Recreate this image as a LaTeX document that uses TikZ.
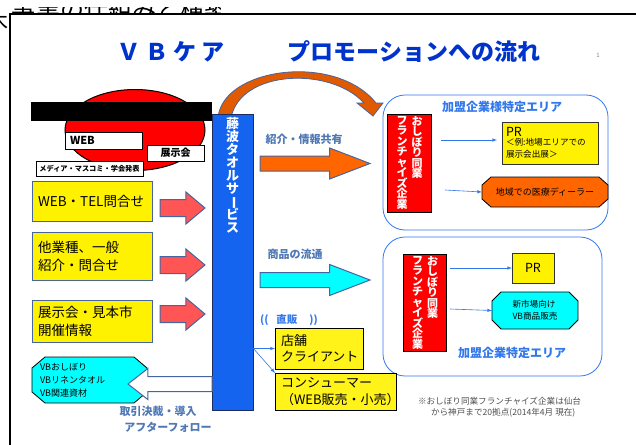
\documentclass[tikz,border=0pt]{standalone}
\usepackage{fontspec}
\setmainfont{Noto Sans CJK JP}
\usepackage{graphicx}
\usepackage{xcolor}
\usetikzlibrary{positioning,arrows,shapes,fit}

\definecolor{titleblue}{RGB}{0,51,204}
\definecolor{barblue}{RGB}{20,100,240}
\definecolor{navy}{RGB}{30,45,95}
\definecolor{steel}{RGB}{80,120,180}
\definecolor{edgeblue}{RGB}{70,100,160}
\definecolor{areablue}{RGB}{50,120,235}
\definecolor{arrred}{RGB}{255,85,85}
\definecolor{orng}{RGB}{255,102,0}
\definecolor{aqua}{RGB}{0,255,255}
\definecolor{curveorng}{RGB}{225,90,0}
\definecolor{notegray}{RGB}{80,80,80}

\newcommand{\fs}[2]{\fontsize{#1}{#2}\selectfont\lineskiplimit=-20pt}
\newcommand{\bou}{\rotatebox[origin=c]{-90}{ー}}
% octagon: style, centre x, centre y, width, height, cut x, cut y
\newcommand{\octa}[7]{\draw[octline,#1] (#2,#3) ++(-#4/2+#6,-#5/2) -- ++(#4-2*#6,0)
  -- ++(#6,#7) -- ++(0,#5-2*#7) -- ++(-#6,#7) -- ++(-#4+2*#6,0) -- ++(-#6,-#7)
  -- ++(0,-#5+2*#7) -- cycle;}

\begin{document}
\begin{tikzpicture}
[x=1pt, y=-1pt,
    every node/.style={inner sep=0pt, outer sep=0pt},
    title/.style={text=titleblue, font=\fs{23}{26}\bfseries},
    blackbox/.style={draw=black, fill=white, line width=1pt, font=\bfseries},
    inbox/.style={draw=edgeblue, fill=yellow, line width=1pt, minimum width=120,
      text width=108, inner xsep=6, align=left, font=\fs{13.5}{18}},
    outbox/.style={draw=black, fill=yellow!90!white, line width=1pt,
      inner xsep=6, align=left, anchor=west, font=\fs{13}{16.5}},
    blockarr/.style={single arrow, single arrow head indent=0pt, draw=edgeblue,
      line width=1pt, anchor=tail, inner xsep=0pt},
    redarr/.style={blockarr, fill=arrred, minimum height=45, inner ysep=8,
      single arrow head extend=7.5, minimum width=31, single arrow tip angle=80},
    bigarr/.style={blockarr, minimum height=110, inner ysep=7,
      single arrow head extend=8, minimum width=30, single arrow tip angle=42},
    area/.style={draw=areablue, line width=0.8pt, rounded corners=22},
    areatitle/.style={text=areablue, font=\fs{12}{14}\bfseries},
    fcbox/.style={draw=black, fill=red, line width=0.8pt},
    vtext/.style={text=white, anchor=north, align=center, text width=12,
      font=\fs{11}{10.5}\bfseries},
    prbox/.style={draw=black!80, fill=yellow, line width=0.8pt},
    octline/.style={draw=black, line width=0.8pt},
    thinarr/.style={-latex, draw=areablue, line width=0.6pt},
    flowlabel/.style={text=steel, font=\fs{11}{14}\bfseries}
    ]
    \useasboundingbox (0,0) rectangle (636,444);

    % header cut off at the top
    \begin{scope}
      \clip (12,8) rectangle (220,14);
      \node[anchor=south west, font=\fs{24}{24}] (head) at (12,20) {事業の仕組みと構築};
    \end{scope}
    \node[anchor=east, font=\fs{22}{22}] (headl) at (9,21) {木};
    \draw[line width=2pt] (10,460) |- (650,14);

    % titles
    \node[title] (t1) at (171,52) {Ｖ\hspace{5pt}Ｂ\hspace{5pt}ケ\hspace{5pt}ア};
    \node[title] (t2) at (414,52) {プロモーションへの流れ};
    \node[text=black!50, font=\fs{6}{6}] (pg) at (598,55) {1};

    % media ellipse
    \node[ellipse, draw=black, fill=red, line width=1pt, minimum width=140,
      minimum height=81] (media) at (135,130) {};
    \node[fill=black, minimum width=181, minimum height=19] (band) at (121.5,111.5) {};
    \node[blackbox, minimum width=77, minimum height=17, text width=67, inner xsep=5,
      align=left, font=\fs{11}{12}\bfseries] (web) at (103.5,140.5) {WEB};
    \node[blackbox, minimum width=57, minimum height=16, font=\fs{10}{11}\bfseries]
      (expo) at (175.5,153) {展示会};
    \node[blackbox, minimum width=107, minimum height=15, font=\fs{7.2}{8}\bfseries]
      (press) at (89.5,168.5) {メディア・マスコミ・学会発表};

    % inquiries
    \node[inbox, minimum height=40] (in1) at (92,201) {WEB・TEL問合せ};
    \node[inbox, minimum height=48] (in2) at (92,256) {他業種、一般\\紹介・問合せ};
    \node[inbox, minimum height=42] (in3) at (92,321) {展示会・見本市\\開催情報};
    \node[redarr] (r1) at (160,208) {};
    \node[redarr] (r2) at (160,265) {};
    \node[redarr] (r3) at (160,314) {};

    % curved arrow over the top
    \draw[fill=curveorng, draw=edgeblue, line width=0.8pt]
      (218,118) .. controls (222,68) and (335,52) .. (376,103) -- (383,103)
      -- (373,116) -- (357,103) -- (364,103)
      .. controls (330,66) and (240,70) .. (231,118) -- cycle;

    % main bar
    \node[draw=navy, fill=barblue, line width=1pt, minimum width=41,
      minimum height=296] (bar) at (232.5,262) {};
    \node[vtext, text width=14, font=\fs{13}{13}\bfseries] (barname) at (232.5,117)
      {藤\\波\\タ\\オ\\ル\\サ\\\bou\\ビ\\ス};

    % flows to the partner areas
    \node[flowlabel] (lab1) at (304,139) {紹介・情報共有};
    \node[bigarr, fill=orng] (flow1) at (260,163.5) {};
    \node[flowlabel] (lab2) at (295,254) {商品の流通};
    \node[bigarr, fill=aqua] (flow2) at (260,280) {};

    % area 1
    \node[area, minimum width=225, minimum height=135] (area1) at (495.5,162.5) {};
    \node[areatitle] (a1t) at (502,107) {加盟企業様特定エリア};
    \node[fcbox, minimum width=44, minimum height=98] (fc1) at (409,163) {};
    \node[vtext] (fc1l) at (402,116) {フ\\ラ\\ン\\チ\\ャ\\イ\\ズ\\企\\業};
    \node[vtext] (fc1r) at (417,116) {お\\し\\ぼ\\り\\同\\業};
    \node[prbox, minimum width=96, minimum height=42, text width=88, inner xsep=4,
      align=left] (pr1) at (550,143)
      {{\fs{12.5}{15}PR}\\[-1pt]{\fs{8.6}{10.5}＜例:地場エリアでの\\展示会出展＞}};
    \octa{fill=orng}{545}{192}{126}{30}{9}{8}
    \node[minimum width=126, minimum height=30, font=\fs{9}{11}] (deal) at (545,192)
      {地域での医療ディーラー};
    \draw[thinarr] (441,140) -- (497,140);
    \draw[thinarr] (445,190) -- (deal.west);

    % area 2
    \node[area, minimum width=219, minimum height=139] (area2) at (492.5,306.5) {};
    \node[fcbox, minimum width=43, minimum height=97] (fc2) at (424.5,302.5) {};
    \node[vtext] (fc2l) at (417.5,256) {フ\\ラ\\ン\\チ\\ャ\\イ\\ズ\\企\\業};
    \node[vtext] (fc2r) at (432.5,256) {お\\し\\ぼ\\り\\同\\業};
    \node[prbox, minimum width=42, minimum height=30, font=\fs{12.5}{14}] (pr2)
      at (533,268) {PR};
    \octa{fill=aqua}{535}{310.5}{86}{37}{9}{9}
    \node[minimum width=86, minimum height=37, align=left, font=\fs{8.6}{12}]
      (newm) at (535,310.5) {新市場向け\\VB商品販売};
    \node[areatitle] (a2t) at (512,353) {加盟企業特定エリア};
    \draw[thinarr] ([xshift=4]fc2.east |- pr2.west) -- (pr2.west);
    \draw[thinarr] (450,309) -- (newm.west);

    % direct sales
    \node[text=areablue, font=\fs{10.5}{12}\bfseries] (direct) at (289,320)
      {((\hspace{8pt}直販\hspace{12pt}))};
    \node[outbox, minimum width=88, minimum height=41, text width=76] (shop)
      at (275,348.5) {店舗\\クライアント};
    \node[outbox, minimum width=121, minimum height=37, text width=109] (cons)
      at (275,391.5) {コンシューマー\\（WEB販売・小売）};
    \draw[thinarr] (bar.east |- shop.west) -- (shop.west);
    \draw[thinarr] (253,348) -- (cons.north west);

    % products back to the customer
    \octa{fill=aqua}{89.5}{380}{115}{46}{13}{11}
    \node[minimum width=115, minimum height=46, text width=99, inner xsep=8,
      align=left, font=\fs{9}{13}] (prod) at (89.5,380)
      {VBおしぼり\\VBリネンタオル\\VB関連資材};
    \node[blockarr, fill=white, rotate=180, minimum height=84, inner ysep=7,
      single arrow head extend=8, minimum width=30, single arrow tip angle=76]
      (back) at (212,384) {};
    \node[flowlabel] (lab3) at (158,411) {取引決裁・導入};
    \node[flowlabel] (lab4) at (168,427) {アフターフォロー};

    % note
    \node[anchor=north west, text=notegray, align=left, font=\fs{8.6}{11.5}]
      (note) at (418,397) {※おしぼり同業フランチャイズ企業は仙台\\
      \hspace{13pt}から神戸まで20拠点(2014年4月 現在)};
\end{tikzpicture}
\end{document}
